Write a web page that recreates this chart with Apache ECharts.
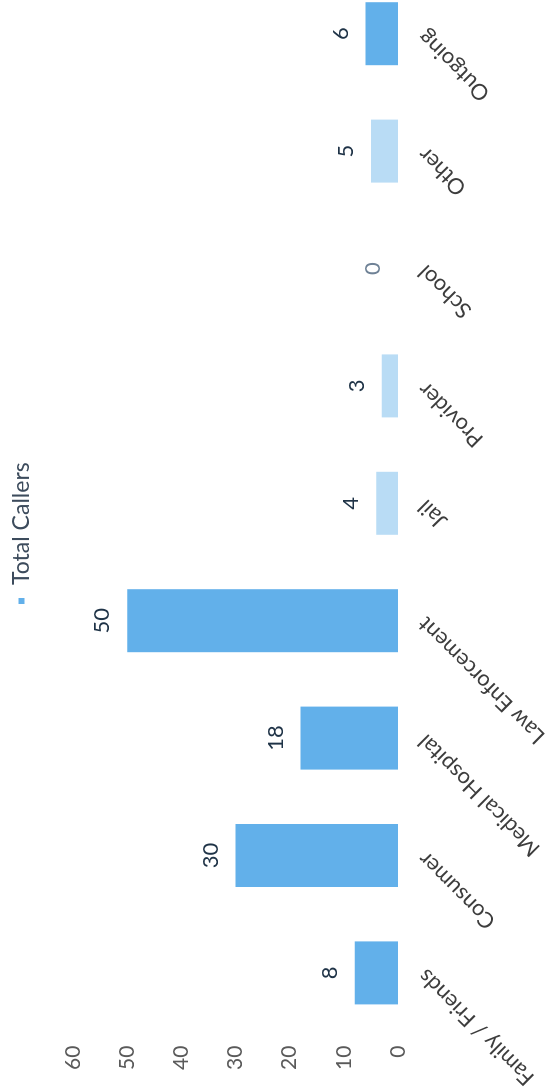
<!DOCTYPE html>
<html>
<head>
<meta charset="utf-8">
<script src="https://cdn.jsdelivr.net/npm/echarts@6/dist/echarts.min.js"></script>
<style>
  html, body { margin: 0; padding: 0; width: 552px; height: 1091px; overflow: hidden; background: #ffffff; }
  #chart {
    position: absolute; left: 0; top: 0;
    width: 1116px; height: 552px;
    transform-origin: 0 0;
    transform: translateY(1091px) rotate(-90deg);
  }
</style>
</head>
<body>
<div id="chart"></div>
<script>
const categories = ["Family / Friends", "Consumer", "Medical Hospital", "Law Enforcement", "Jail", "Provider", "School", "Other", "Outgoing"];
const values = [8, 30, 18, 50, 4, 3, 0, 5, 6];
const paleBars = ["Jail", "Provider", "Other"];
const seriesName = "Total Callers";

const barColor = "#62b0ea";
const paleColor = "#b9dcf5";

const chart = echarts.init(document.getElementById("chart"), null, { renderer: "canvas" });

const data = values.map((v, i) => {
  const item = { value: v };
  if (paleBars.includes(categories[i])) item.itemStyle = { color: paleColor };
  if (v === 0) item.label = { color: "#6f8296" };
  return item;
});

chart.setOption({
  animation: false,
  backgroundColor: "#ffffff",
  legend: {
    show: true,
    left: 482,
    top: 5,
    itemWidth: 6,
    itemHeight: 6,
    icon: "rect",
    data: [seriesName],
    textStyle: { fontFamily: "Lato", fontSize: 23, color: "#3c4b5c", padding: [0, 0, 0, 8] }
  },
  grid: { left: 54, right: 0, top: 73, bottom: 154, containLabel: false },
  xAxis: {
    type: "category",
    data: categories,
    axisLine: { show: false },
    axisTick: { show: false },
    axisLabel: {
      rotate: 45,
      margin: 24,
      interval: 0,
      fontFamily: "Lato",
      fontSize: 22,
      color: "#3d3d3d"
    }
  },
  yAxis: {
    type: "value",
    min: 0,
    max: 60,
    interval: 10,
    splitLine: { show: false },
    axisLine: { show: false },
    axisTick: { show: false },
    axisLabel: { margin: 14, fontFamily: "Lato", fontSize: 21, color: "#5a5a5a" }
  },
  series: [{
    name: seriesName,
    type: "bar",
    data: data,
    barWidth: 63,
    itemStyle: { color: barColor },
    label: {
      show: true,
      position: "top",
      distance: 14,
      fontFamily: "Lato",
      fontSize: 22,
      color: "#1f3347"
    }
  }]
});
</script>
</body>
</html>
